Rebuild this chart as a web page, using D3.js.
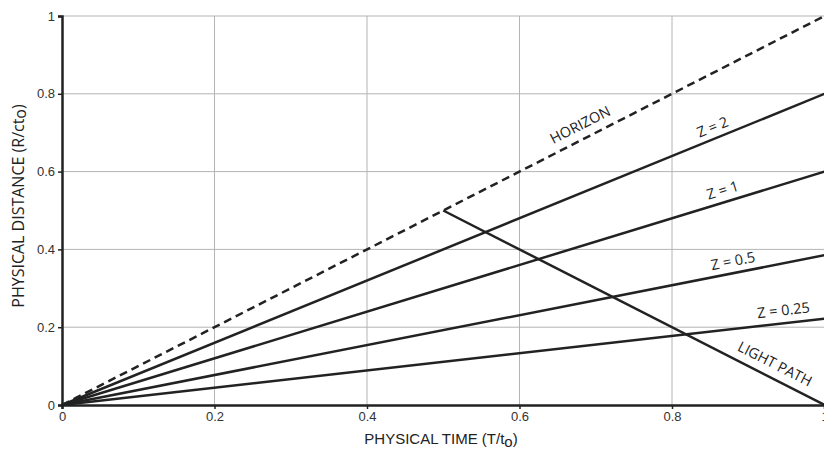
<!DOCTYPE html>
<html>
<head>
<meta charset="utf-8">
<script src="https://cdn.jsdelivr.net/npm/d3@7"></script>
<style>
  html, body { margin: 0; padding: 0; background: #fff; }
  svg { display: block; }
</style>
</head>
<body>
<svg id="chart" width="824" height="455"></svg>
<script>
// Tick values for both axes
const xTicks = [0, 0.2, 0.4, 0.6, 0.8, 1];
const yTicks = [0, 0.2, 0.4, 0.6, 0.8, 1];

// Redshift lines: distance reached at T = 1
const zNames = ["Z = 2", "Z = 1", "Z = 0.5", "Z = 0.25"];
const zEnds = [0.8, 0.6, 0.385, 0.222];

// Horizon (dashed) and light path segments, as [T, R] points
const horizon = [[0, 0], [1, 1]];
const lightPath = [[0.5, 0.5], [1, 0]];

const svg = d3.select("#chart");
const m = { left: 62, right: -0.5, top: 16, bottom: 50 };
const W = 824, H = 455;

const x = d3.scaleLinear().domain([0, 1]).range([m.left, W - m.right]);
const y = d3.scaleLinear().domain([0, 1]).range([H - m.bottom, m.top]);

// grid
svg.append("g").selectAll("line").data(xTicks.slice(1)).join("line")
  .attr("x1", d => x(d)).attr("x2", d => x(d))
  .attr("y1", y(0)).attr("y2", y(1))
  .attr("stroke", "#b4b4b4").attr("stroke-width", 1);
svg.append("g").selectAll("line").data(yTicks.slice(1)).join("line")
  .attr("x1", x(0)).attr("x2", x(1))
  .attr("y1", d => y(d)).attr("y2", d => y(d))
  .attr("stroke", "#b4b4b4").attr("stroke-width", 1);

// axes
const fmt = d => String(d);
const xAxis = svg.append("g").attr("transform", `translate(0,${y(0)})`)
  .call(d3.axisBottom(x).tickValues(xTicks).tickFormat(fmt).tickSizeOuter(0).tickSize(4).tickPadding(3));
const yAxis = svg.append("g").attr("transform", `translate(${x(0)},0)`)
  .call(d3.axisLeft(y).tickValues(yTicks).tickFormat(fmt).tickSizeOuter(0).tickSize(4).tickPadding(3));
[xAxis, yAxis].forEach(a => {
  a.select(".domain").attr("stroke", "#222").attr("stroke-width", 2.5);
  a.selectAll(".tick line").attr("stroke", "#222").attr("stroke-width", 1.5);
  a.selectAll(".tick text").attr("fill", "#333")
    .style("font-family", "'Liberation Sans', Arial, sans-serif").style("font-size", "13px");
});

const line = d3.line().x(d => x(d[0])).y(d => y(d[1]));

// redshift lines
svg.append("g").selectAll("path").data(zEnds).join("path")
  .attr("d", d => line([[0, 0], [1, d]]))
  .attr("fill", "none").attr("stroke", "#222").attr("stroke-width", 2.5);

// horizon
svg.append("path").attr("d", line(horizon))
  .attr("fill", "none").attr("stroke", "#222").attr("stroke-width", 2.5)
  .attr("stroke-dasharray", "8,5");

// light path
svg.append("path").attr("d", line(lightPath))
  .attr("fill", "none").attr("stroke", "#222").attr("stroke-width", 2.5);

// line labels, placed along each line and rotated to its slope
const angleOf = (p0, p1) => Math.atan2(y(p1[1]) - y(p0[1]), x(p1[0]) - x(p0[0])) * 180 / Math.PI;
function label(text, t, p0, p1, off) {
  const px = x(p0[0] + (p1[0] - p0[0]) * t);
  const py = y(p0[1] + (p1[1] - p0[1]) * t);
  const a = angleOf(p0, p1);
  svg.append("text")
    .attr("transform", `translate(${px},${py}) rotate(${a}) translate(0,${-off})`)
    .attr("text-anchor", "middle")
    .attr("fill", "#222")
    .style("font-family", "'Open Sans', sans-serif").style("font-size", "14.5px")
    .text(text);
}
label("HORIZON", 0.688, horizon[0], horizon[1], 9);
const zT = [0.859, 0.871, 0.883, 0.948];
const zOff = [6.5, 7, 7, 8];
zNames.forEach((n, i) => label(n, zT[i], [0, 0], [1, zEnds[i]], zOff[i]));
label("LIGHT PATH", 0.853, lightPath[0], lightPath[1], 9);

// axis titles
const xt = svg.append("text").attr("x", 441).attr("y", 444).attr("text-anchor", "middle")
  .attr("fill", "#222").style("font-family", "'Liberation Sans', Arial, sans-serif").style("font-size", "15px");
xt.append("tspan").text("PHYSICAL TIME (T/t");
xt.append("tspan").attr("dy", 3).text("o");
xt.append("tspan").attr("dy", -3).text(")");

const yt = svg.append("text").attr("transform", "translate(24,206) rotate(-90)").attr("text-anchor", "middle")
  .attr("fill", "#222").style("font-family", "'Open Sans', sans-serif").style("font-size", "16px");
yt.append("tspan").text("PHYSICAL DISTANCE (R/ct");
yt.append("tspan").attr("dy", 2).text("o");
yt.append("tspan").attr("dy", -2).text(")");
</script>
</body>
</html>
